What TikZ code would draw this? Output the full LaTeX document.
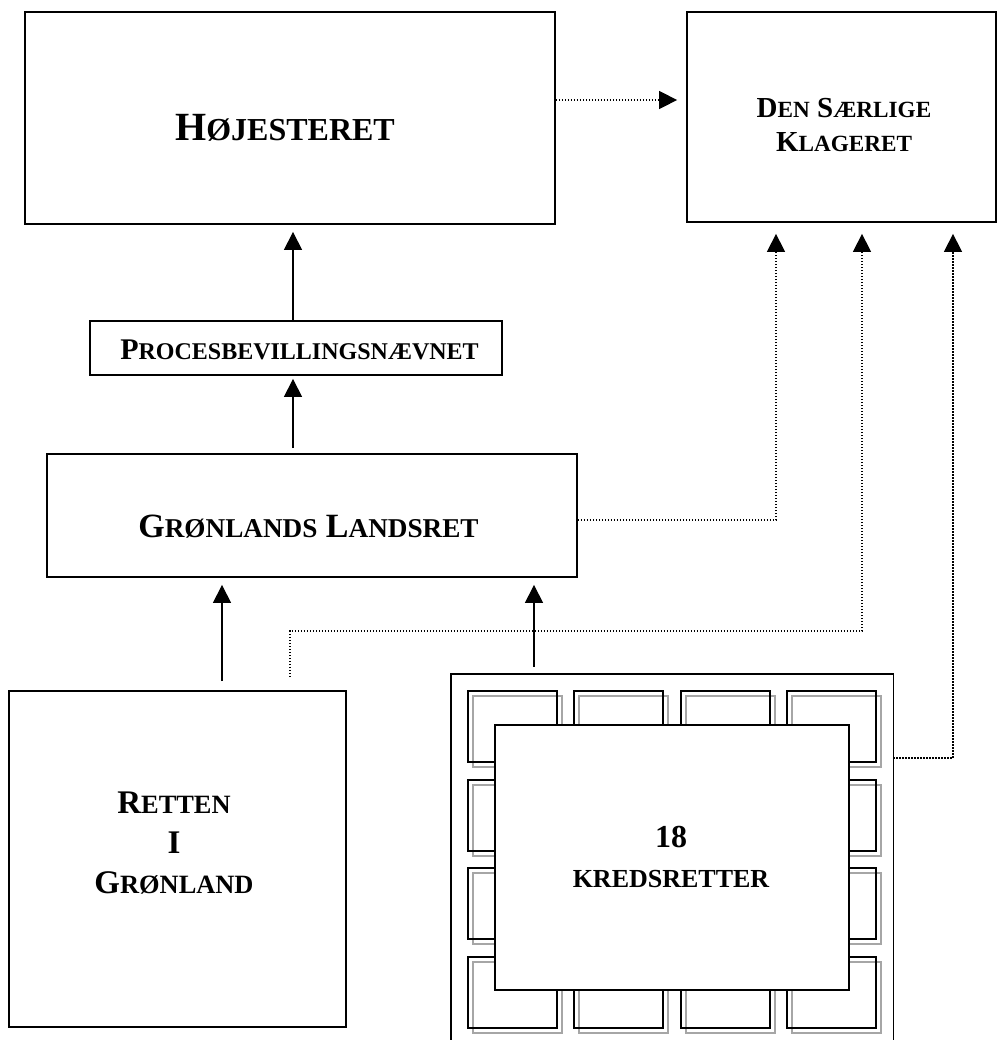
\documentclass[tikz,border=0pt]{standalone}
\usepackage{fontspec}
\setmainfont{Liberation Serif}
\usetikzlibrary{arrows.meta,positioning}

% kapitaeler: resten af ordet i mindre versaler
\newcommand{\kap}[2]{{\fontsize{#1}{0pt}\selectfont #2}}

\tikzset{
  ret/.style={draw, line width=0.9pt, fill=white, inner sep=0pt},
  txt/.style={inner sep=0pt, font=\bfseries},
  pil/.style={-{Triangle[length=9pt,width=9pt]}, line width=0.6pt},
  klagepil/.style={pil, line width=0.75pt, dash pattern=on 0.75pt off 0.75pt},
  celle/.style={line width=0.9pt},
  skygge/.style={line width=0.9pt, gray!70}
}

\begin{document}
\begin{tikzpicture}[x=0.5pt,y=-0.5pt]
        \useasboundingbox (0,0) rectangle (998,1040);

        % Domstolene
        \node[ret, minimum width=265pt, minimum height=106pt] (hoj) at (290,118) {};
        \node[ret, minimum width=154.5pt, minimum height=105pt] (klage) at (841.5,117) {};
        \node[ret, minimum width=206pt, minimum height=27pt] (proces) at (296,348) {};
        \node[ret, minimum width=265pt, minimum height=61.5pt] (lands) at (312,515.5) {};
        \node[ret, minimum width=168.5pt, minimum height=168pt] (retten) at (177.5,859) {};

        % 18 kredsretter
        \node[minimum width=221pt, minimum height=183pt, inner sep=0pt] (kreds) at (672,857) {};
        \draw[line width=0.9pt] (kreds.south west) -- (kreds.north west) -- (kreds.north east) -- (kreds.south east);
        \foreach \c/\r in {0/0,1/0,2/0,3/0,0/1,3/1,0/2,3/2,0/3,1/3,2/3,3/3} {
            \draw[skygge] ({473+106.33*\c},{696+88.67*\r}) rectangle ++(89,71);
            \draw[celle] ({468+106.33*\c},{691+88.67*\r}) rectangle ++(89,71);
        }
        \node[ret, minimum width=177pt, minimum height=132.5pt] (kredsinde) at (672,857.5) {};

        % Tekster
        \node[txt, font=\bfseries\fontsize{20pt}{24pt}\selectfont, anchor=base] (hojtxt) at (285,140)
            {H\kap{16pt}{ØJESTERET}};
        \node[txt, font=\bfseries\fontsize{14.5pt}{17pt}\selectfont, align=center] (klagetxt) at (844,125.5)
            {D\kap{11.6pt}{EN} S\kap{11.6pt}{ÆRLIGE}\\K\kap{11.6pt}{LAGERET}};
        \node[txt, font=\bfseries\fontsize{15pt}{18pt}\selectfont, anchor=base] (procestxt) at (299.5,359)
            {P\kap{12pt}{ROCESBEVILLINGSNÆVNET}};
        \node[txt, font=\bfseries\fontsize{17pt}{20pt}\selectfont, anchor=base] (landstxt) at (308.5,537)
            {G\kap{13.6pt}{RØNLANDS} L\kap{13.6pt}{ANDSRET}};
        \node[txt, font=\bfseries\fontsize{16.5pt}{20pt}\selectfont, align=center] (rettentxt) at (174,843.5)
            {R\kap{13.2pt}{ETTEN}\\I\\G\kap{13.2pt}{RØNLAND}};
        \node[txt, font=\bfseries\fontsize{16pt}{20pt}\selectfont, align=center] (kredstxt) at (671,856.5)
            {18\\\kap{13pt}{KREDSRETTER}};

        % Appelveje
        \coordinate (a1) at (293,0);
        \coordinate (a2) at (222,0);
        \coordinate (a3) at (534,0);
        \draw[pil, shorten >=3.5pt] (a1 |- proces.north) -- (a1 |- hoj.south);
        \draw[pil, shorten <=2.5pt, shorten >=1.5pt] (a1 |- lands.north) -- (a1 |- proces.south);
        \draw[pil, shorten <=4.5pt, shorten >=3.5pt] (a2 |- retten.north) -- (a2 |- lands.south);
        \draw[pil, shorten <=3.5pt, shorten >=3.5pt] (a3 |- kreds.north) -- (a3 |- lands.south);

        % Til Den Særlige Klageret
        \coordinate (k0) at (0,100);
        \coordinate (k1) at (776,520);
        \coordinate (k2) at (862,631);
        \coordinate (k3) at (953,758);
        \coordinate (r1) at (290,631);
        \draw[klagepil, shorten >=4.5pt] (hoj.east |- k0) -- (klage.west |- k0);
        \draw[klagepil, shorten >=5.5pt] (lands.east |- k1) -| (k1 |- klage.south);
        \draw[klagepil, shorten <=6.5pt, shorten >=5.5pt] (r1 |- retten.north) -- (r1) -| (k2 |- klage.south);
        \draw[klagepil, shorten >=5.5pt] (kreds.east |- k3) -| (k3 |- klage.south);
\end{tikzpicture}
\end{document}
